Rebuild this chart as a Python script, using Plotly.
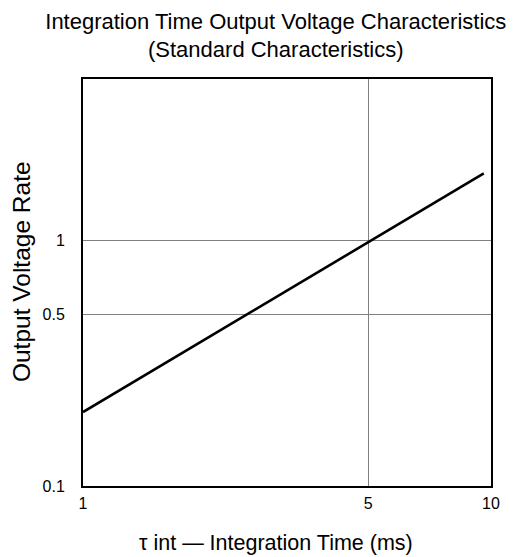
import plotly.graph_objects as go
import numpy as np

# Data (log-log)
integration_time_ms = [1.0, 9.6]
output_voltage_rate = [0.2, 1.87]

x_tick_vals = [1, 5, 10]
x_tick_text = ["1", "5", "10"]
y_tick_vals = [0.1, 0.5, 1]
y_tick_text = ["0.1", "0.5", "1"]

FONT = "Liberation Sans, Arial, sans-serif"

fig = go.Figure()
fig.add_trace(go.Scatter(
    x=integration_time_ms, y=output_voltage_rate,
    mode="lines", line=dict(color="black", width=2.6),
    showlegend=False, hoverinfo="skip"))

fig.update_layout(
    width=522, height=557,
    margin=dict(l=75, r=39, t=71, b=79),
    paper_bgcolor="white", plot_bgcolor="white",
    font=dict(family=FONT, color="black"),
    title=dict(
        text="Integration Time Output Voltage Characteristics<br>(Standard Characteristics)",
        x=0.513, xanchor="center", y=0.963, yanchor="top",
        font=dict(size=22, family=FONT, color="black")),
    annotations=[
        dict(text="τ int — Integration Time (ms)", xref="paper", yref="paper",
             x=0.473, y=-0.140, xanchor="center", yanchor="middle",
             showarrow=False, font=dict(size=21.5, family=FONT, color="black")),
        dict(text="Output Voltage Rate", xref="paper", yref="paper",
             x=-0.152, y=0.528, xanchor="center", yanchor="middle", textangle=-90,
             showarrow=False, font=dict(size=24.5, family=FONT, color="black")),
    ],
)
fig.update_xaxes(
    type="log", range=[np.log10(1), np.log10(10)],
    tickvals=x_tick_vals, ticktext=x_tick_text,
    tickfont=dict(size=16), ticks="", ticklabelstandoff=2,
    showgrid=True, gridcolor="#808080", gridwidth=1,
    showline=True, linecolor="black", linewidth=2, mirror=True,
    zeroline=False)
fig.update_yaxes(
    type="log", range=[-1, 0.656],
    tickvals=y_tick_vals, ticktext=y_tick_text,
    tickfont=dict(size=16), ticks="", ticklabelstandoff=13,
    showgrid=True, gridcolor="#808080", gridwidth=1,
    showline=True, linecolor="black", linewidth=2, mirror=True,
    zeroline=False)

fig.write_html("out.html")
